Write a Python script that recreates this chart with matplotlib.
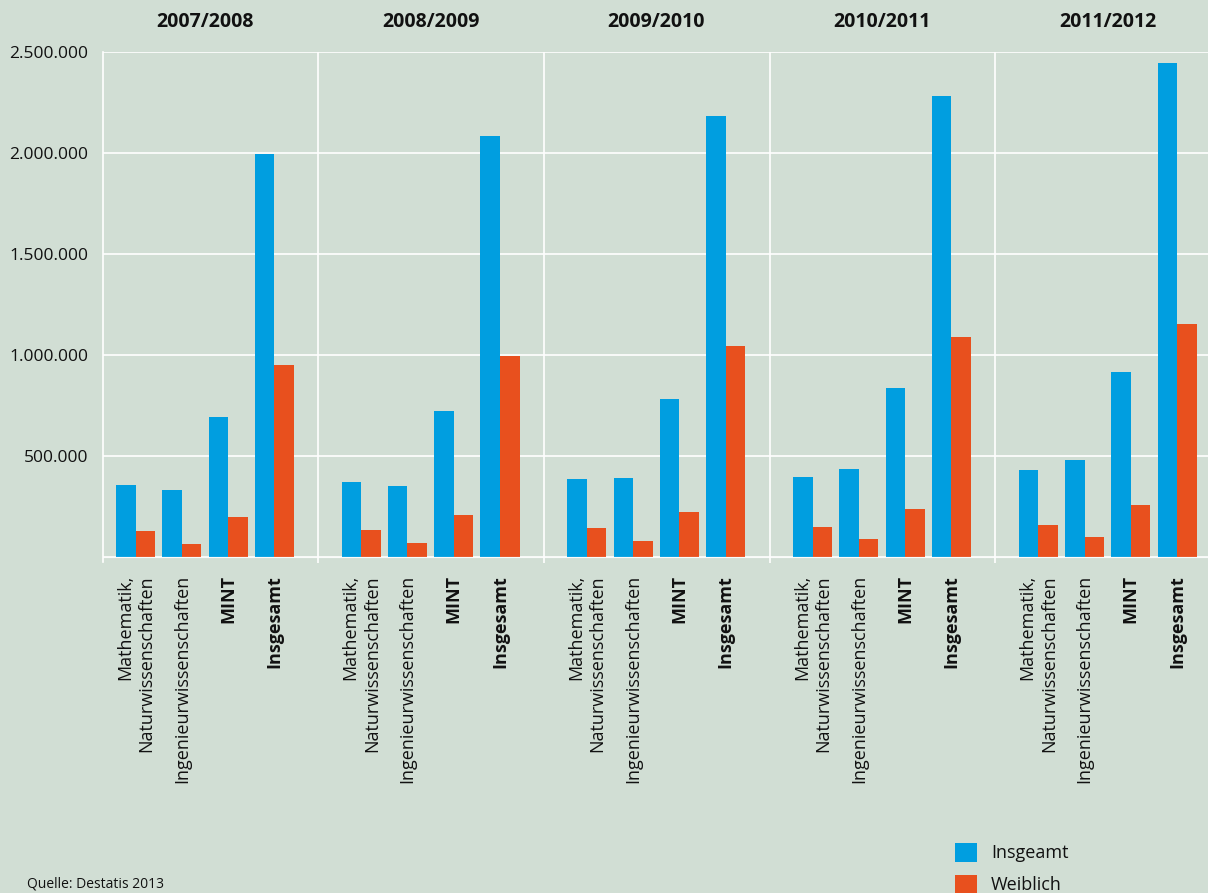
import matplotlib
matplotlib.use("Agg")
import matplotlib.pyplot as plt
from matplotlib.patches import Patch
import numpy as np

plt.rcParams['font.family'] = ['Open Sans', 'DejaVu Sans']

years = ["2007/2008", "2008/2009", "2009/2010", "2010/2011", "2011/2012"]
categories = ["Mathematik,\nNaturwissenschaften", "Ingenieurwissenschaften", "MINT", "Insgesamt"]
bold_cats = [False, False, True, True]

insgesamt_2007 = [358000, 333000, 695000, 1997000]
insgesamt_2008 = [373000, 353000, 724000, 2086000]
insgesamt_2009 = [388000, 393000, 784000, 2185000]
insgesamt_2010 = [398000, 437000, 838000, 2284000]
insgesamt_2011 = [432000, 482000, 917000, 2447000]

weiblich_2007 = [130000, 66000, 200000, 952000]
weiblich_2008 = [135000, 71000, 209000, 997000]
weiblich_2009 = [145000, 81000, 224000, 1046000]
weiblich_2010 = [150000, 91000, 239000, 1091000]
weiblich_2011 = [160000, 100000, 259000, 1155000]

insgesamt = [insgesamt_2007, insgesamt_2008, insgesamt_2009, insgesamt_2010, insgesamt_2011]
weiblich = [weiblich_2007, weiblich_2008, weiblich_2009, weiblich_2010, weiblich_2011]

yticks = [500000, 1000000, 1500000, 2000000, 2500000]
ytick_labels = ["500.000", "1.000.000", "1.500.000", "2.000.000", "2.500.000"]

legend_labels = ["Insgeamt", "Weiblich"]
source_text = "Quelle: Destatis 2013"

BG = "#D1DED4"
BLUE = "#009EE0"
ORANGE = "#E8501E"
TXT = "#111111"

W, H = 1208, 893
fig = plt.figure(figsize=(W / 100, H / 100), dpi=100, facecolor=BG)
ax = fig.add_axes([103 / W, 1 - 562.5 / H, 1 - 103 / W, (562.5 - 52.3) / H])
ax.set_facecolor(BG)

step = 0.205
bw = 0.0865
xs_all, labels_all, bold_all = [], [], []
for i, yr in enumerate(years):
    centers = i + step * np.arange(len(categories))
    ax.bar(centers - bw / 2, insgesamt[i], width=bw, color=BLUE, zorder=3, linewidth=0)
    ax.bar(centers + bw / 2, weiblich[i], width=bw, color=ORANGE, zorder=3, linewidth=0)
    xs_all.extend(centers)
    labels_all.extend(categories)
    bold_all.extend(bold_cats)
    ax.annotate(yr, xy=(i + step * 1.5, 1), xycoords=('data', 'axes fraction'),
                xytext=(0, 22), textcoords='offset points', ha='center', va='center',
                fontsize=14, fontweight='bold', color=TXT, annotation_clip=False)
    if i < len(years) - 1:
        ax.axvline(i + 0.81, color='white', lw=1.2, zorder=1)

ax.set_xlim(-0.144, 4.752)
ax.set_ylim(-25000, 2500000)

for y in [0] + yticks:
    ax.axhline(y, color='white', lw=1.2, zorder=1)
ax.axhline(0, color='white', lw=1.0, alpha=0.4, zorder=4)

ax.set_yticks(yticks)
ax.set_yticklabels(ytick_labels, fontsize=12.5, color=TXT)
ax.tick_params(axis='y', length=0, pad=10.5)

ax.set_xticks(xs_all)
ticklabels = ax.set_xticklabels(labels_all, rotation=90, ha='center', va='top',
                                fontsize=13, color=TXT, multialignment='right',
                                linespacing=1.25)
for t, b in zip(ticklabels, bold_all):
    if b:
        t.set_fontweight('bold')
ax.tick_params(axis='x', length=0, pad=9)

for s in ['top', 'right', 'bottom']:
    ax.spines[s].set_visible(False)
ax.spines['left'].set_color('white')
ax.spines['left'].set_linewidth(1.2)

handles = [Patch(facecolor=BLUE, edgecolor='none'), Patch(facecolor=ORANGE, edgecolor='none')]
fig.legend(handles, legend_labels, loc='upper left', bbox_to_anchor=(955 / W, 1 - 843 / H),
           frameon=False, fontsize=13, handlelength=1.2, handleheight=1.2,
           handletextpad=0.8, labelspacing=0.68, borderpad=0, borderaxespad=0,
           labelcolor=TXT)

fig.text(27 / W, 1 - 892 / H, source_text, ha='left', va='bottom', fontsize=10, color=TXT)

fig.savefig("out.png", dpi=100, facecolor=BG)
